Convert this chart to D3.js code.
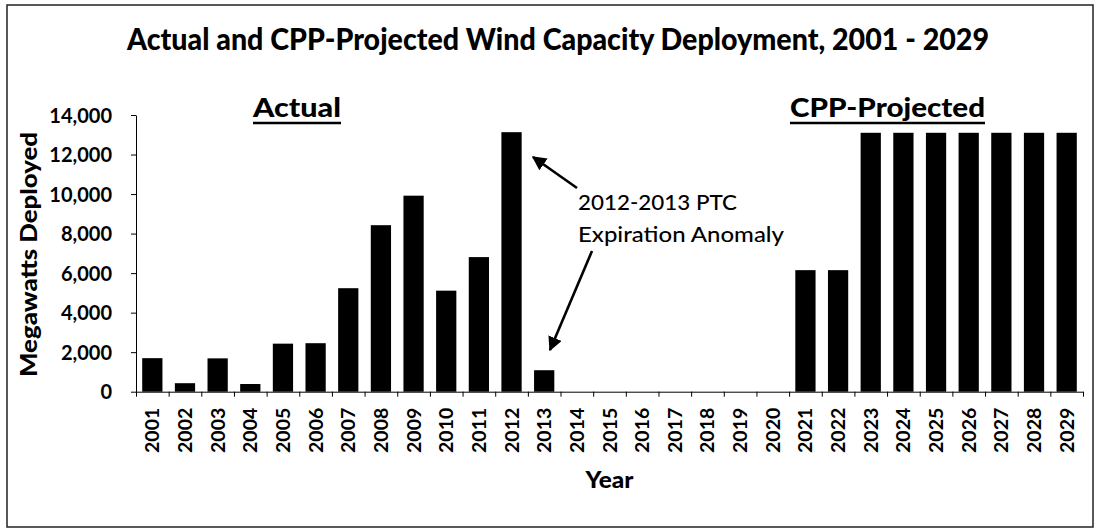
<!DOCTYPE html>
<html>
<head>
<meta charset="utf-8">
<script src="https://cdn.jsdelivr.net/npm/d3@7"></script>
<style>
  html, body { margin: 0; padding: 0; background: #fff; }
  text { font-family: Lato, "Open Sans", sans-serif; fill: #000; }
</style>
</head>
<body>
<svg id="chart"></svg>
<script>
const years = d3.range(2001, 2030).map(String);

const actualYears = ["2001","2002","2003","2004","2005","2006","2007","2008","2009","2010","2011","2012","2013"];
const actualMW = [1697, 430, 1687, 389, 2431, 2454, 5237, 8425, 9918, 5112, 6810, 13131, 1087];

const projectedYears = ["2021","2022","2023","2024","2025","2026","2027","2028","2029"];
const projectedMW = [6150, 6150, 13100, 13100, 13100, 13100, 13100, 13100, 13100];

const yTicks = [0, 2000, 4000, 6000, 8000, 10000, 12000, 14000];

document.addEventListener("DOMContentLoaded", () => {

    const width = 1097, height = 531;
    const left = 136, right = 1083, top = 115, bottom = 391.7;

    const svg = d3.select("#chart")
        .attr("width", width)
        .attr("height", height);

    // outer frame
    svg.append("rect")
        .attr("x", 7).attr("y", 5)
        .attr("width", 1086).attr("height", 522)
        .style("fill", "none")
        .style("stroke", "#222")
        .style("stroke-width", 1.5);

    const x = d3.scaleBand()
        .domain(years)
        .range([left, right])
        .paddingInner(0.38)
        .paddingOuter(0.19);

    const y = d3.scaleLinear()
        .domain([0, 14000])
        .range([bottom, top]);

    const bars = actualYears.map((yr, i) => ({ year: yr, mw: actualMW[i] }))
        .concat(projectedYears.map((yr, i) => ({ year: yr, mw: projectedMW[i] })));

    svg.selectAll("rect.bar")
        .data(bars)
        .enter()
        .append("rect")
        .attr("class", "bar")
        .attr("x", d => x(d.year))
        .attr("y", d => y(d.mw))
        .attr("width", x.bandwidth())
        .attr("height", d => y(0) - y(d.mw))
        .style("fill", "#000");

    // y axis
    const yAxis = svg.append("g")
        .attr("transform", `translate(${left},0)`)
        .call(d3.axisLeft(y).tickValues(yTicks).tickFormat(d3.format(",")).tickSize(5).tickSizeOuter(0).tickPadding(19));
    yAxis.selectAll("text")
        .style("font-size", "20px")
        .style("font-weight", 700)
        .attr("dy", "0.36em");

    // x axis: boundary ticks between categories
    const xEdges = d3.scaleLinear().domain([0, years.length]).range([left, right]);
    svg.append("g")
        .attr("transform", `translate(0,${bottom})`)
        .call(d3.axisBottom(xEdges).tickValues(d3.range(years.length + 1)).tickFormat("").tickSize(5).tickSizeOuter(0));

    const xAxis = svg.append("g")
        .attr("transform", `translate(0,${bottom})`)
        .call(d3.axisBottom(x).tickSize(0).tickPadding(0));
    xAxis.select(".domain").remove();
    xAxis.selectAll("text")
        .style("font-size", "19.5px")
        .style("font-weight", 700)
        .attr("text-anchor", "end")
        .attr("transform", "rotate(-90)")
        .attr("x", -16)
        .attr("y", 0)
        .attr("dy", "0.36em");

    svg.selectAll(".domain, .tick line").style("stroke", "#000").style("stroke-width", 1);

    // titles
    svg.append("text")
        .attr("x", 127).attr("y", 50)
        .attr("textLength", 862).attr("lengthAdjust", "spacingAndGlyphs")
        .style("font-size", "30px").style("font-weight", 900)
        .text("Actual and CPP-Projected Wind Capacity Deployment, 2001 - 2029");

    svg.append("text")
        .attr("transform", "translate(37,254.5) rotate(-90)")
        .attr("text-anchor", "middle")
        .attr("textLength", 245).attr("lengthAdjust", "spacingAndGlyphs")
        .style("font-size", "23px").style("font-weight", 900)
        .text("Megawatts Deployed");

    svg.append("text")
        .attr("x", (left + right) / 2).attr("y", 488)
        .attr("text-anchor", "middle")
        .attr("textLength", 48).attr("lengthAdjust", "spacingAndGlyphs")
        .style("font-size", "23px").style("font-weight", 900)
        .text("Year");

    // section labels with underline
    const sections = [
        { label: "Actual", x0: 253, x1: 341 },
        { label: "CPP-Projected", x0: 790, x1: 985 }
    ];
    sections.forEach(s => {
        svg.append("text")
            .attr("x", s.x0).attr("y", 117)
            .attr("textLength", s.x1 - s.x0).attr("lengthAdjust", "spacingAndGlyphs")
            .style("font-size", "26px").style("font-weight", 900)
            .text(s.label);
        svg.append("line")
            .attr("x1", s.x0).attr("x2", s.x1)
            .attr("y1", 123).attr("y2", 123)
            .style("stroke", "#000").style("stroke-width", 2.4);
    });

    // annotation
    svg.append("defs").append("marker")
        .attr("id", "head")
        .attr("viewBox", "0 0 10 10")
        .attr("refX", 9).attr("refY", 5)
        .attr("markerWidth", 5.5).attr("markerHeight", 5.5)
        .attr("orient", "auto")
        .append("path")
        .attr("d", "M0,0L10,5L0,10Z")
        .style("fill", "#000");

    const arrows = [
        { x1: 577, y1: 188, x2: 533, y2: 157 },
        { x1: 592, y1: 251, x2: 550, y2: 350 }
    ];
    svg.selectAll("line.arrow")
        .data(arrows)
        .enter()
        .append("line")
        .attr("class", "arrow")
        .attr("x1", d => d.x1).attr("y1", d => d.y1)
        .attr("x2", d => d.x2).attr("y2", d => d.y2)
        .attr("marker-end", "url(#head)")
        .style("stroke", "#000").style("stroke-width", 2.6);

    const note = [
        { text: "2012-2013 PTC", y: 210, w: 159 },
        { text: "Expiration Anomaly", y: 242, w: 206 }
    ];
    note.forEach(n => {
        svg.append("text")
            .attr("x", 578).attr("y", n.y)
            .attr("textLength", n.w).attr("lengthAdjust", "spacingAndGlyphs")
            .style("font-size", "22px")
            .style("font-weight", 500)
            .text(n.text);
    });
});
</script>
</body>
</html>
